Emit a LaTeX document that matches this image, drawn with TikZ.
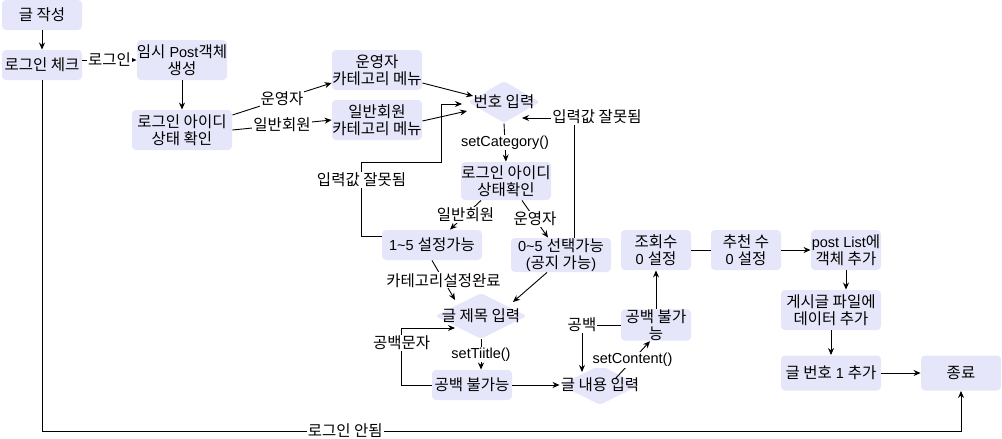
\documentclass[tikz,border=0pt]{standalone}
\usepackage{fontspec}
\setmainfont{Liberation Sans}
\newfontfamily\krfont[Scale=1.07]{Noto Sans CJK KR}
\newcommand\K[1]{{\krfont #1}}
\usetikzlibrary{arrows.meta,shapes.geometric,calc}
\definecolor{lav}{RGB}{230,230,250}
\begin{document}
\begin{tikzpicture}[x=1pt,y=-1pt,
  font=\fontsize{14.5}{17.5}\selectfont,
  box/.style={fill=lav, rounded corners=4pt, align=center, inner sep=0pt},
  dia/.style={diamond, fill=lav, rounded corners=3pt, inner sep=0pt},
  dtext/.style={inner sep=0pt, align=center},
  lbl/.style={fill=white, inner sep=1pt},
  arr/.style={-{Stealth[length=7pt,width=6pt]}},
  line width=0.9pt]
\useasboundingbox (0,0) rectangle (1002,439);

% nodes
\node[box, minimum width=80pt, minimum height=30pt] (write) at (42,15) {\K{글 작성}};
\node[box, minimum width=80pt, minimum height=30pt] (login) at (42,65) {\K{로그인 체크}};
\node[box, minimum width=90pt, minimum height=40pt] (post) at (182,60) {\K{임시} Post\K{객체}\\\K{생성}};
\node[box, minimum width=100pt, minimum height=40pt] (idchk) at (182,130) {\K{로그인 아이디}\\\K{상태 확인}};
\node[box, minimum width=90pt, minimum height=40pt] (admin) at (377,70) {\K{운영자}\\\K{카테고리 메뉴}};
\node[box, minimum width=90pt, minimum height=40pt] (user) at (377,120) {\K{일반회원}\\\K{카테고리 메뉴}};
\node[dia, minimum width=72pt, minimum height=42pt] (num) at (504,102) {};
\node[dtext] (numt) at (num) {\K{번호 입력}};
\node[box, minimum width=90pt, minimum height=38pt] (idchk2) at (506,181) {\K{로그인 아이디}\\\K{상태확인}};
\node[box, minimum width=100pt, minimum height=30pt] (set15) at (432,245) {1\textasciitilde 5 \K{설정가능}};
\node[box, minimum width=100pt, minimum height=34pt] (set05) at (561,255) {0\textasciitilde 5 \K{선택가능}\\(\K{공지 가능})};
\node[dia, minimum width=92pt, minimum height=46pt] (title) at (481,316) {};
\node[dtext] (titlet) at (title) {\K{글 제목 입력}};
\node[box, minimum width=80pt, minimum height=30pt] (tblank) at (472,385) {\K{공백 불가능}};
\node[dia, minimum width=80pt, minimum height=40pt] (content) at (600,385) {};
\node[dtext] (contentt) at (content) {\K{글 내용 입력}};
\node[box, minimum width=70pt, minimum height=30pt] (cblank) at (656,325) {\K{공백 불가}\\\K{능}};
\node[box, minimum width=70pt, minimum height=40pt] (view) at (656,250) {\K{조회수}\\0 \K{설정}};
\node[box, minimum width=70pt, minimum height=40pt] (rec) at (746,250) {\K{추천 수}\\0 \K{설정}};
\node[box, minimum width=70pt, minimum height=40pt] (plist) at (846,250) {post List\K{에}\\\K{객체 추가}};
\node[box, minimum width=100pt, minimum height=40pt] (file) at (831,310) {\K{게시글 파일에}\\\K{데이터 추가}};
\node[box, minimum width=100pt, minimum height=35pt] (numadd) at (831,373) {\K{글 번호} 1 \K{추가}};
\node[box, minimum width=80pt, minimum height=35pt] (end) at (961,373) {\K{종료}};
\coordinate (bot) at (961,431);

% connectors
\draw[arr] (write) -- (login);
\draw[arr] (login.east |- post.west) -- node[lbl]{\K{로그인}} (post.west);
\draw[arr] (post) -- (idchk);
\draw[arr] ($(idchk.east)+(0,-15)$) -- node[lbl]{\K{운영자}} ($(admin.west)+(0,13)$);
\draw[arr] (idchk.east) -- node[lbl]{\K{일반회원}} (user.west);
\draw[arr] ($(admin.east)+(0,13)$) -- ($(num)+(-31,-6)$);
\draw[arr] ($(user.east)+(0,1)$) -- ($(num)+(-37,9)$);
\draw[arr] ($(set15.west)+(0,-9)$) -- ++(-20,0) -- node[lbl,pos=0.76]{\K{입력값 잘못됨}} ++(0,-74) -- ++(80,0) |- ($(num)+(-42,2)$);
\draw[arr] ($(set05.north)+(13,0)$) |- ($(num)+(18,16)$) node[lbl] at (597,117) {\K{입력값 잘못됨}};
\draw[arr] (num.south) -- node[lbl]{setCategory()} (idchk2.north);
\draw[arr] ($(idchk2.south)+(-25,0)$) -- node[lbl]{\K{일반회원}} ($(set15.north)+(18,0)$);
\draw[arr] ($(idchk2.south)+(16,0)$) -- node[lbl]{\K{운영자}} ($(set05.north)+(-13,0)$);
\draw[arr] (set15.south) -- node[lbl]{\K{카테고리설정완료}} ($(title)+(-26,-16)$);
\draw[arr] ($(set05.south)+(-14,0)$) -- ($(title)+(32,-14)$);
\draw[arr] (title.south) -- node[lbl]{setTiitle()} (title.south |- tblank.north);
\draw[arr] (tblank.west) -- ++(-30,0) -- node[lbl,pos=0.74]{\K{공백문자}} ++(0,-57) -- ($(title)+(-26,12)$);
\draw[arr] (tblank.east) -- (content.west);
\draw[arr] ($(content)+(15,-6)$) -- node[lbl]{setContent()} ($(cblank.south)+(-6,0)$);
\draw[arr] (cblank.west) -| node[lbl,pos=0.5]{\K{공백}} ($(content)+(-18,-13)$);
\draw[arr] (cblank.north) -- (view.south);
\draw (view.east) -- (rec.west);
\draw[arr] (rec.east) -- (plist.west);
\draw[arr] (plist.south) -- (plist.south |- file.north);
\draw[arr] (file.south) -- (numadd.north);
\draw[arr] (numadd.east) -- (end.west);
\draw[arr] (login.south) |- node[lbl,pos=0.665]{\K{로그인 안됨}} (bot) -- (end.south);
\end{tikzpicture}
\end{document}
